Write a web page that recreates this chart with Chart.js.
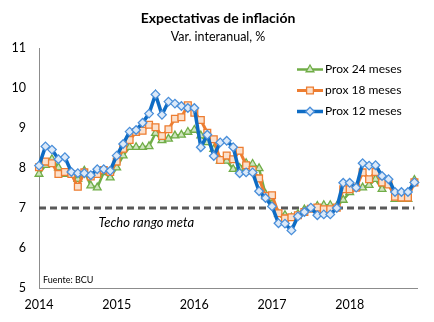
<!DOCTYPE html>
<html><head><meta charset="utf-8">
<script src="https://cdn.jsdelivr.net/npm/chart.js@4.4.0/dist/chart.umd.min.js"></script>
<style>html,body{margin:0;padding:0;background:#fff;}canvas{display:block;}</style>
</head><body>
<canvas id="c" width="434" height="322"></canvas>
<script>
// ---- data ----
const yearLabels = ['2014','2015','2016','2017','2018'];
const monthNames = ['ene','feb','mar','abr','may','jun','jul','ago','set','oct','nov','dic'];
const nMonths = 59; // ene-2014 .. nov-2018
const categories = [];
for (let i = 0; i < nMonths; i++) categories.push(monthNames[i % 12] + '-' + yearLabels[Math.floor(i / 12)].slice(2));

const prox24 = [7.85,8.07,8.22,8.01,7.85,7.85,7.72,7.93,7.56,7.51,7.89,7.76,
                8.01,8.31,8.52,8.52,8.52,8.54,8.87,8.69,8.73,8.81,8.83,8.90,
                8.95,8.81,8.64,8.47,8.18,8.18,7.97,8.00,8.12,8.10,7.99,7.35,
                7.10,6.85,6.82,6.76,6.85,6.96,6.98,7.05,7.07,7.07,7.04,7.20,
                7.39,7.51,7.51,7.57,7.72,7.47,7.64,7.22,7.22,7.22,7.70];
const prox18 = [8.02,8.16,8.12,7.85,7.90,7.85,7.53,7.89,7.79,7.85,7.95,7.90,
                8.16,8.48,8.70,8.90,8.93,9.08,9.02,8.80,8.97,9.23,9.27,9.57,
                9.38,9.20,8.88,8.72,8.20,8.31,8.22,8.43,8.07,7.95,7.74,7.30,
                7.32,6.87,6.74,6.77,6.82,6.90,6.98,7.01,6.97,6.97,7.01,7.47,
                7.47,7.51,7.89,7.72,7.90,7.64,7.59,7.28,7.26,7.26,7.64];
const prox12 = [8.06,8.54,8.46,8.22,8.27,7.90,7.87,7.87,7.82,7.97,7.97,7.93,
                8.31,8.60,8.91,8.95,9.13,9.36,9.84,9.33,9.66,9.61,9.55,9.50,
                9.50,8.52,8.83,8.30,8.64,8.68,8.52,7.87,7.89,7.89,7.42,7.25,
                7.04,6.62,6.61,6.44,6.79,6.90,7.01,6.82,6.84,6.84,7.00,7.63,
                7.63,7.51,8.12,8.06,8.07,7.80,7.72,7.40,7.40,7.40,7.64];
const seriesNames = ['Prox 24 meses','prox 18 meses','Prox 12 meses'];
const refValue = 7;          // techo rango meta
const refLabel = 'Techo rango meta';
const titleText = 'Expectativas de inflación';
const subtitleText = 'Var. interanual, %';
const sourceText = 'Fuente: BCU';
const yTicks = [5,6,7,8,9,10,11];

// ---- chart ----
const FONT = 'Lato, "Open Sans", "DejaVu Sans", sans-serif';
const toPts = arr => arr.map((v, i) => ({x: i, y: v}));
const lastIdx = nMonths - 1;

const styles = [
  {line:'#70AD47', fill:'#CFE5BF', border:'#70AD47', shape:'triangle', r:4.5, w:2.5},
  {line:'#ED7D31', fill:'#FBE0CC', border:'#ED7D31', shape:'rect', r:4.8, w:3},
  {line:'#0E6CC4', fill:'#DCE9F8', border:'#4A8FDA', shape:'rectRot', r:4.3, w:3.5}
];
const seriesData = [prox24, prox18, prox12];

const datasets = seriesData.map((arr, k) => ({
  label: seriesNames[k],
  data: toPts(arr),
  borderColor: styles[k].line,
  borderWidth: styles[k].w,
  pointStyle: styles[k].shape,
  pointRadius: styles[k].r,
  pointBorderWidth: 1.3,
  pointBorderColor: styles[k].border,
  pointBackgroundColor: styles[k].fill,
  tension: 0,
  clip: false,
  order: 3 - k
}));
datasets.push({
  label: 'ref',
  data: [{x: 0, y: refValue}, {x: lastIdx, y: refValue}],
  borderColor: '#595959',
  borderWidth: 3,
  borderDash: [7, 4],
  pointRadius: 0,
  clip: false,
  order: 10
});

const decor = {
  id: 'decor',
  afterDraw(chart) {
    const {ctx, chartArea: a, scales: {x, y}} = chart;
    ctx.save();
    ctx.fillStyle = '#000';
    ctx.textAlign = 'center';
    ctx.textBaseline = 'middle';
    ctx.font = `bold 14px ${FONT}`;
    ctx.fillText(titleText, 218, 18);
    ctx.font = `12.5px ${FONT}`;
    ctx.fillText(subtitleText, 218, 37);
    // reference label
    ctx.textAlign = 'left';
    ctx.font = `italic 13px ${FONT}`;
    ctx.fillText(refLabel, x.getPixelForValue(9.2), y.getPixelForValue(refValue) + 15);
    // source
    ctx.font = `9px ${FONT}`;
    ctx.fillText(sourceText, a.left + 4, a.bottom - 8);
    // legend
    const lx0 = 297, lx1 = 323, ty0 = 69.5, dy = 21;
    for (let k = 0; k < 3; k++) {
      const s = styles[k];
      const yy = ty0 + k * dy;
      ctx.strokeStyle = s.line; ctx.lineWidth = s.w; ctx.setLineDash([]);
      ctx.beginPath(); ctx.moveTo(lx0, yy); ctx.lineTo(lx1, yy); ctx.stroke();
      ctx.fillStyle = s.fill; ctx.strokeStyle = s.border; ctx.lineWidth = 1.3;
      Chart.helpers.drawPoint(ctx, {pointStyle: s.shape, radius: s.r, rotation: 0, borderWidth: 1.3}, (lx0 + lx1) / 2, yy);
      ctx.fillStyle = '#000';
      ctx.font = `12px ${FONT}`;
      ctx.textAlign = 'left';
      ctx.fillText(seriesNames[k], lx1 + 2, yy);
    }
    ctx.restore();
  }
};

new Chart(document.getElementById('c'), {
  type: 'line',
  data: {labels: categories, datasets},
  options: {
    responsive: false,
    animation: false,
    devicePixelRatio: 1,
    layout: {padding: {top: 48, right: 17, left: 0, bottom: 0}},
    plugins: {legend: {display: false}, tooltip: {enabled: false}, title: {display: false}},
    scales: {
      x: {
        type: 'linear', min: 0, max: 58.4,
        grid: {display: false, drawTicks: false},
        border: {display: true, color: '#8C8C8C', width: 1},
        ticks: {stepSize: 12, includeBounds: false, autoSkip: false, maxRotation: 0, padding: 9,
                color: '#000', font: {family: FONT, size: 12.5},
                callback: v => (v % 12 === 0 && yearLabels[v / 12]) ? yearLabels[v / 12] : ''},
        afterFit(s) { s.height = 34; }
      },
      y: {
        min: yTicks[0], max: yTicks[yTicks.length - 1],
        grid: {display: false, drawTicks: false},
        border: {display: true, color: '#8C8C8C', width: 1},
        ticks: {stepSize: 1, padding: 13, color: '#000', font: {family: FONT, size: 12.5}},
        afterFit(s) { s.width = 39; }
      }
    }
  },
  plugins: [decor]
});
</script>
</body></html>
